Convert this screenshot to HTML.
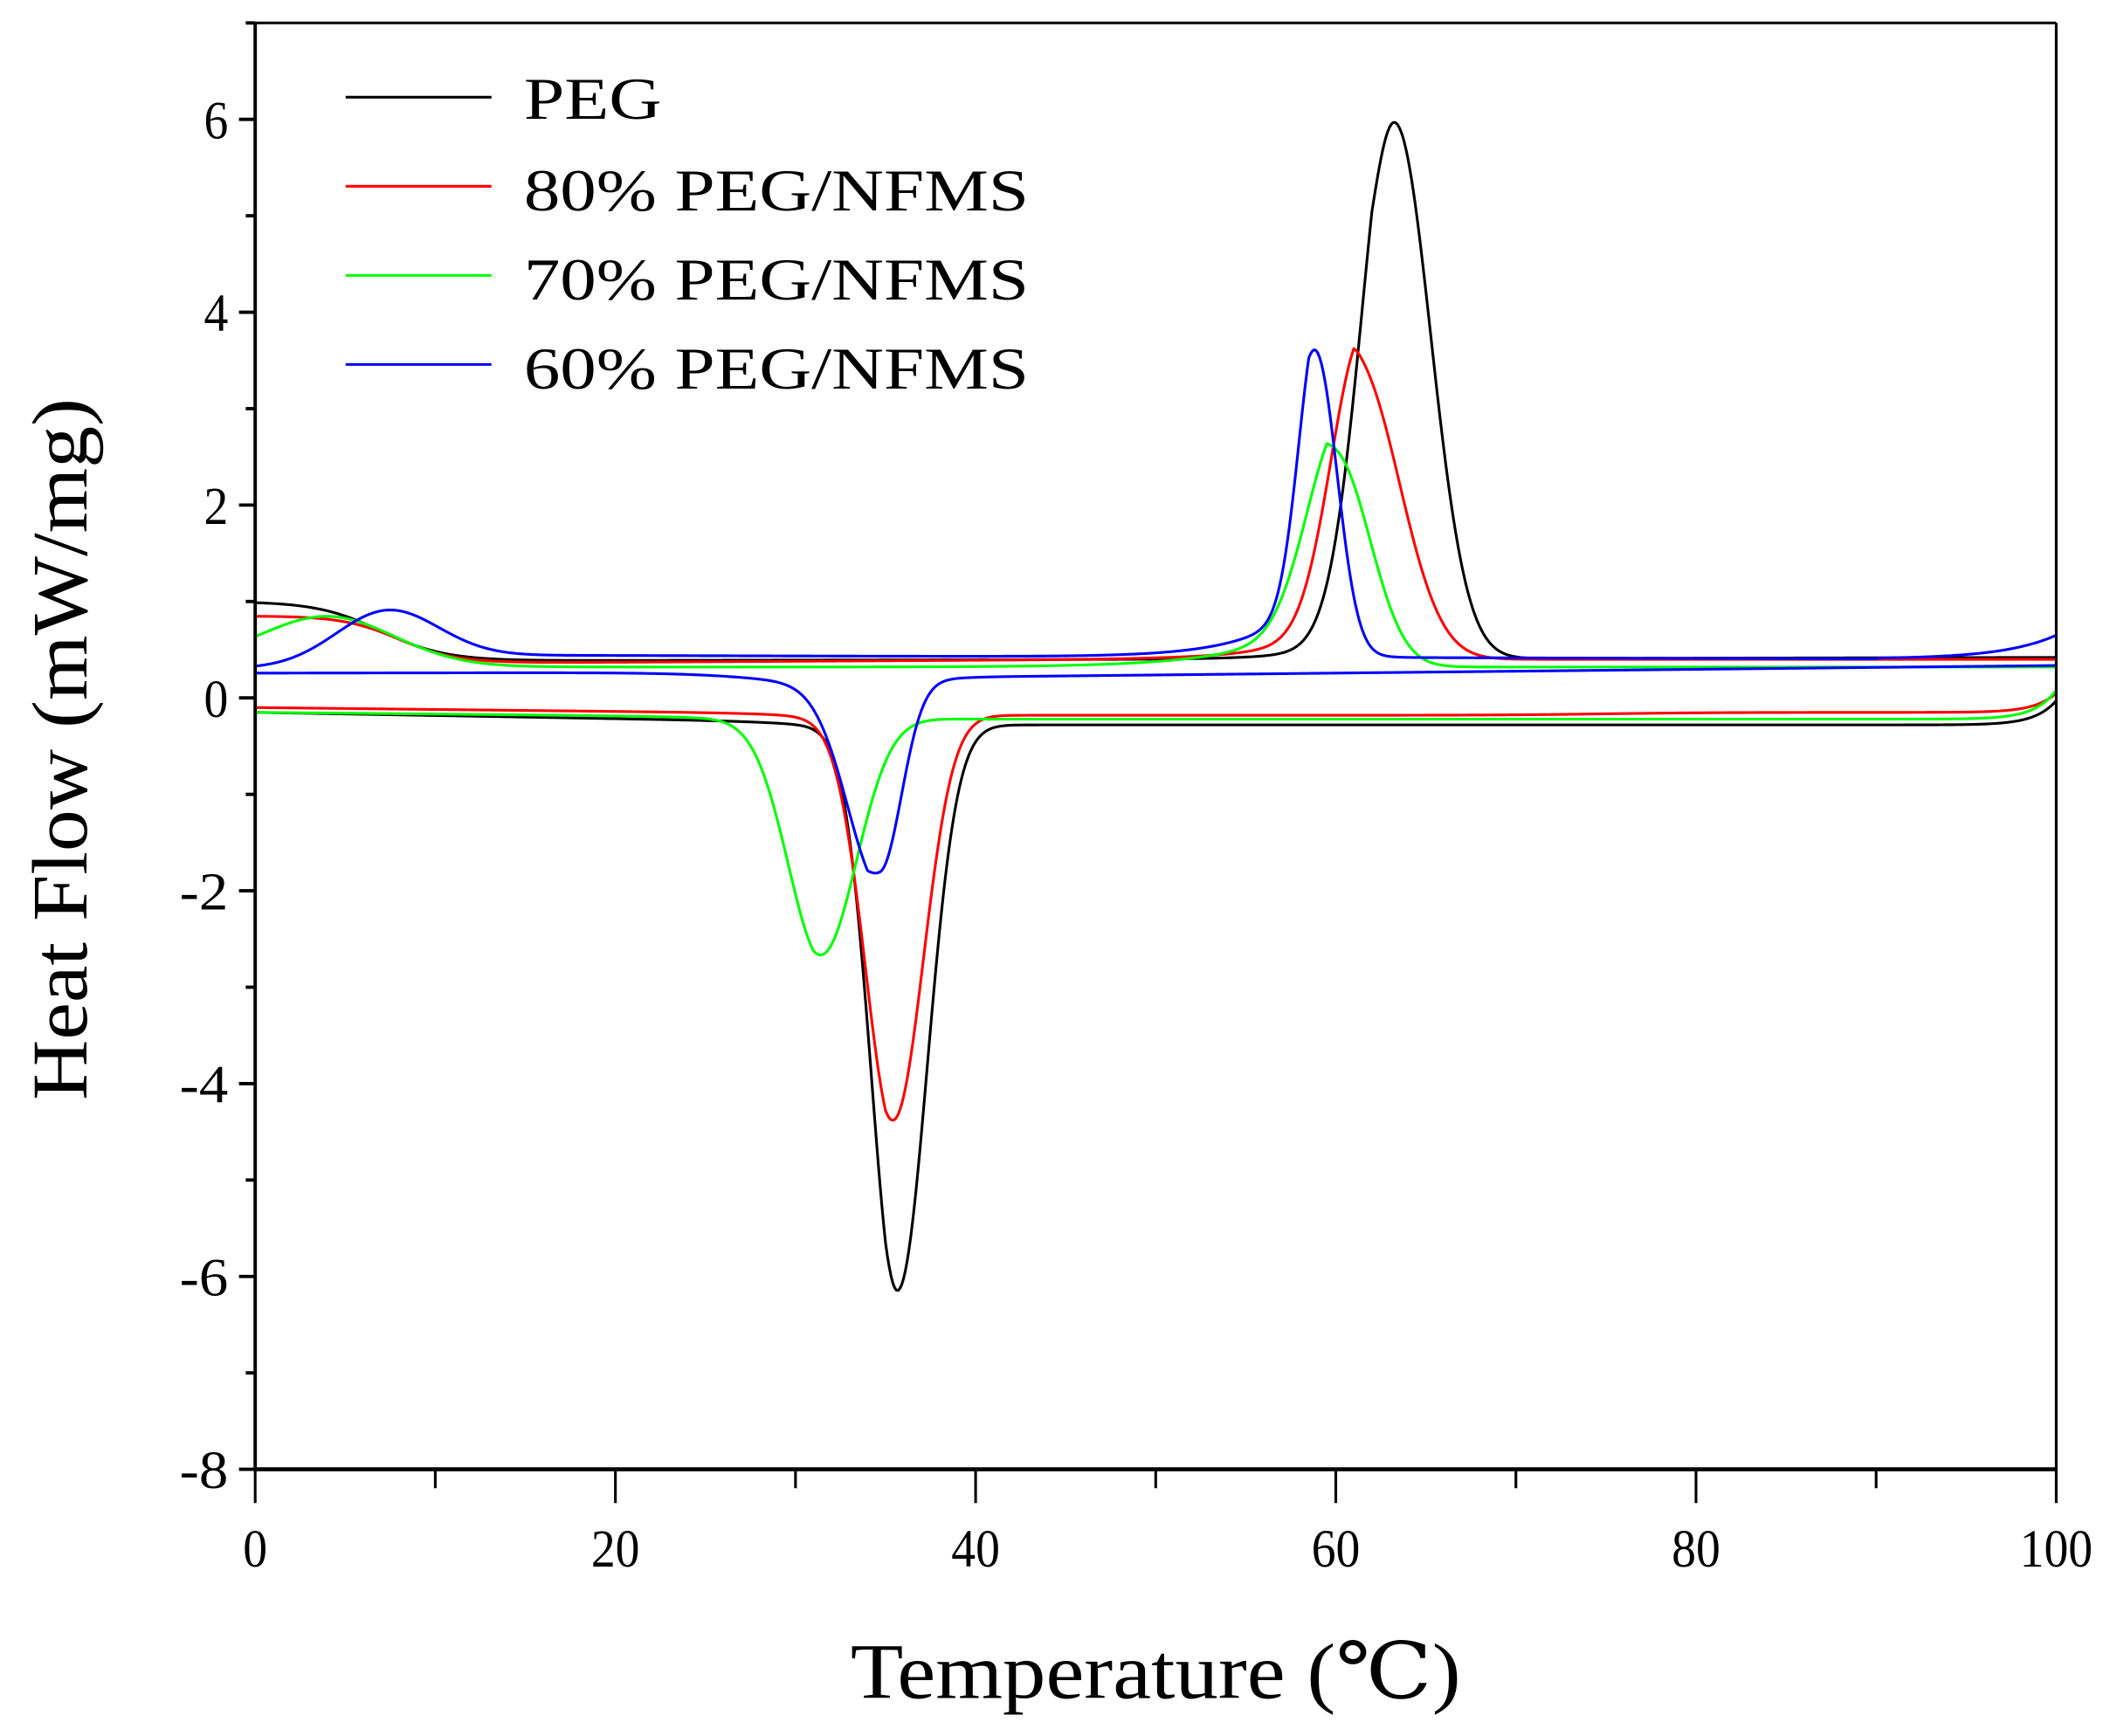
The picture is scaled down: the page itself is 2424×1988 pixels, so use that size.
<!DOCTYPE html>
<html><head><meta charset="utf-8"><style>
html,body{margin:0;padding:0;background:#fff;}
svg{display:block}
text{font-family:"Liberation Serif","DejaVu Serif",serif;fill:#000}
</style></head><body>
<svg id="s" width="2424" height="1988" viewBox="0 0 1568 1286" xmlns="http://www.w3.org/2000/svg">
<rect x="0" y="0" width="1568" height="1286" fill="#fff"/>
<g id="curves" fill="none" stroke-width="2" stroke-linejoin="round"></g>
<g id="axes" stroke="#000" fill="none"></g>
<g id="labels"></g>
<g font-size="44">
<line x1="256" y1="72" x2="364" y2="72" stroke="#000" stroke-width="2"/>
<line x1="256" y1="138" x2="364" y2="138" stroke="#f00" stroke-width="2"/>
<line x1="256" y1="204" x2="364" y2="204" stroke="#0f0" stroke-width="2"/>
<line x1="256" y1="270" x2="364" y2="270" stroke="#00f" stroke-width="2"/>
<text x="388" y="88" textLength="102" lengthAdjust="spacingAndGlyphs">PEG</text>
<text x="388" y="156" textLength="374" lengthAdjust="spacingAndGlyphs">80% PEG/NFMS</text>
<text x="388" y="222" textLength="374" lengthAdjust="spacingAndGlyphs">70% PEG/NFMS</text>
<text x="388" y="288" textLength="374" lengthAdjust="spacingAndGlyphs">60% PEG/NFMS</text>
</g>
<text x="630" y="1258" font-size="58" textLength="452" lengthAdjust="spacingAndGlyphs">Temperature (℃)</text>
<text transform="translate(64,555) rotate(-90)" text-anchor="middle" font-size="58" textLength="520" lengthAdjust="spacingAndGlyphs">Heat Flow (mW/mg)</text>
</svg>
<script>
var X0=189,X1=1523,Y0=517,PY=71.43;
function px(t){return X0+(X1-X0)*t/100}
function py(v){return Y0-v*PY}
function g(t,A,mu,sl,sr){var s=t<mu?sl:sr;var d=(t-mu)/s;return A*Math.exp(-d*d)}
function tail(t,A,mu,tau){return t<mu?A*Math.exp((t-mu)/tau):A*Math.exp(-(t-mu)/(tau*0.3))}
function sig(t,c,w){return 1/(1+Math.exp(-(t-c)/w))}
function mn(a,b){return a<b?a:b}
var curves=[
 ["#000",function(t){return 1.0-0.62*sig(t,7,1.8)+0.02*t/50 + g(t,5.5,63.3,2.6,2.8)+tail(t,0.35,62,2.5)}],
 ["#000",function(t){return -0.15-0.13*mn(t,40)/40 - g(t,5.8,35.7,2.1,2.3)-tail(t,0.2,35,2.5) + 0.25*Math.exp((t-100)/1.2)}],
 ["#f00",function(t){return 0.85-0.5*sig(t,8,1.6)+0.05*mn(t,50)/50 + g(t,2.8,61.4,2.4,3.2)+tail(t,0.5,61,3.2)}],
 ["#f00",function(t){return -0.1-0.08*mn(t,40)/40 +0.03*sig(t,75,3) - g(t,4.1,35.5,2.3,2.3)-tail(t,0.2,35,2.5)+0.2*Math.exp((t-100)/1.2)}],
 ["#0f0",function(t){return 0.4+0.45*Math.exp(-Math.pow((t-4)/5,2))-0.08*sig(t,10,2) + g(t,1.9,60.2,2.6,2.6)+tail(t,0.55,59.5,4.2)}],
 ["#0f0",function(t){return -0.15-0.07*mn(t,40)/40 - g(t,2.4,31.5,2.7,2.7)-tail(t,0.1,31,3)+0.3*Math.exp((t-100)/1.2)}],
 ["#00f",function(t){return 0.3+0.5*Math.exp(-Math.pow((t-7.3)/4,2))+0.15*sig(t,5,2)-0.05*t/100+(t>90?0.25*Math.exp((t-100)/3):0) + g(t,2.8,59,1.5,1.6)+tail(t,0.6,58.5,3.2)}],
 ["#00f",function(t){return 0.22+0.1*(t>40?(t-40)/60:0)+0.12*sig(t,80,100) -0.1*sig(t,28,2.5) - g(t,1.9,34.7,2.6,1.7)-tail(t,0.2,34,2.5)+0.05*sig(t,38,1)}]
];
var gc=document.getElementById('curves'),ns='http://www.w3.org/2000/svg';
curves.forEach(function(c){var d='';for(var i=0;i<=1000;i++){var t=i/10;d+=(i?'L':'M')+px(t).toFixed(2)+','+py(c[1](t)).toFixed(2)}
 var p=document.createElementNS(ns,'path');p.setAttribute('d',d);p.setAttribute('stroke',c[0]);gc.appendChild(p)});
var ax=document.getElementById('axes'),lb=document.getElementById('labels');
function L(x1,y1,x2,y2,w){var l=document.createElementNS(ns,'line');l.setAttribute('x1',x1);l.setAttribute('y1',y1);l.setAttribute('x2',x2);l.setAttribute('y2',y2);l.setAttribute('stroke-width',w);ax.appendChild(l)}
function T(x,y,s,a){var e=document.createElementNS(ns,'text');e.setAttribute('x',x);e.setAttribute('y',y);e.setAttribute('font-size',40);e.setAttribute('text-anchor',a);e.setAttribute('textLength',s.length*18);e.setAttribute('lengthAdjust','spacingAndGlyphs');e.textContent=s;lb.appendChild(e)}
var YT=py(7),YB=py(-8);
L(X0,YT,X1,YT,2);L(X1,YT,X1,YB,2);L(X0,YT,X0,YB,2.5);L(X0-1,YB,X1+1,YB,3);
for(var i=0;i<=10;i++){var x=px(i*10);L(x,YB,x,YB+(i%2?14:25),2);if(i%2==0)T(x,YB+72,String(i*10),'middle')}
for(var v=-8;v<=7;v++){var y=py(v);var maj=(v%2==0);L(X0,y,X0-(maj?12:7),y,2.5);if(maj)T(X0-20,y+14,String(v),'end')}
</script>
</body></html>
